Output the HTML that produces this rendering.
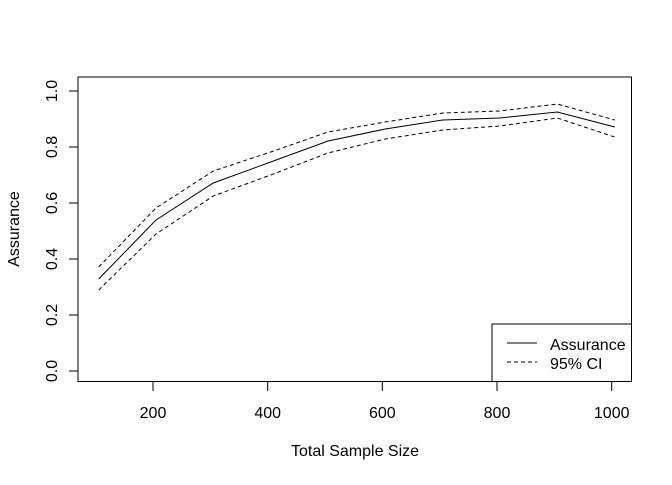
<!DOCTYPE html>
<html><head><style>body{margin:0;background:#fff}</style></head><body>
<svg width="672" height="480" xmlns="http://www.w3.org/2000/svg" font-family="Liberation Sans, Arial, sans-serif" font-size="16">
<rect x="78" y="77" width="553.5" height="304.5" fill="none" stroke="#000"/>
<g stroke="#000" fill="none">
<line x1="153" y1="381.5" x2="611.7" y2="381.5"/>
<line x1="153" y1="381.5" x2="153" y2="391"/>
<line x1="267.7" y1="381.5" x2="267.7" y2="391"/>
<line x1="382.3" y1="381.5" x2="382.3" y2="391"/>
<line x1="497" y1="381.5" x2="497" y2="391"/>
<line x1="611.7" y1="381.5" x2="611.7" y2="391"/>
<line x1="78" y1="91" x2="78" y2="371"/>
<line x1="69" y1="371" x2="78" y2="371"/>
<line x1="69" y1="315" x2="78" y2="315"/>
<line x1="69" y1="259" x2="78" y2="259"/>
<line x1="69" y1="203" x2="78" y2="203"/>
<line x1="69" y1="147" x2="78" y2="147"/>
<line x1="69" y1="91" x2="78" y2="91"/>
</g>
<g text-anchor="middle">
<text x="153" y="418">200</text><text x="267.7" y="418">400</text><text x="382.3" y="418">600</text><text x="497" y="418">800</text><text x="611.7" y="418">1000</text>
<text x="355" y="456">Total Sample Size</text>
</g>
<g text-anchor="middle">
<text transform="translate(57,371) rotate(-90)">0.0</text>
<text transform="translate(57,315) rotate(-90)">0.2</text>
<text transform="translate(57,259) rotate(-90)">0.4</text>
<text transform="translate(57,203) rotate(-90)">0.6</text>
<text transform="translate(57,147) rotate(-90)">0.8</text>
<text transform="translate(57,91) rotate(-90)">1.0</text>
<text transform="translate(19,229) rotate(-90)">Assurance</text>
</g>
<g fill="none" stroke="#000">
<polyline points="98.7,279 156,220 213.3,183 270.7,162 328,141 385.3,129 442.7,120 500,118 557.3,112 614.7,127"/>
<polyline stroke-dasharray="4,3" points="98.7,267 156,208 213.3,171 270.7,152 328,132 385.3,122 442.7,113 500,111 557.3,104 614.7,120"/>
<polyline stroke-dasharray="4,3" points="98.7,290 156,234 213.3,196 270.7,175 328,153 385.3,139 442.7,130 500,126 557.3,118 614.7,137"/>
<rect x="492" y="324" width="139.5" height="57.5" fill="#fff"/>
<line x1="507" y1="343" x2="537" y2="343"/>
<line x1="507" y1="362" x2="537" y2="362" stroke-dasharray="4,3"/>
</g>
<text x="550" y="350">Assurance</text>
<text x="550" y="369">95% CI</text>
</svg>
</body></html>
